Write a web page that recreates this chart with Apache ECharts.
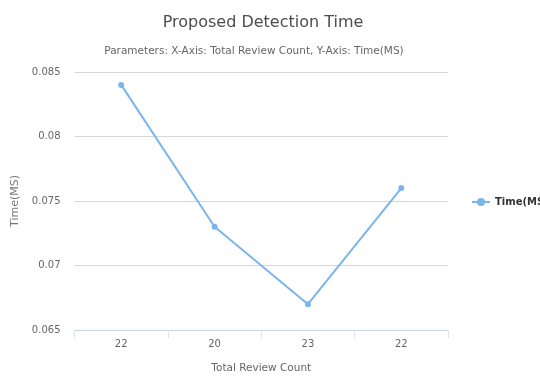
<!DOCTYPE html>
<html>
<head>
<meta charset="utf-8">
<script src="https://cdn.jsdelivr.net/npm/echarts@6/dist/echarts.min.js"></script>
<style>
html,body{margin:0;padding:0;background:#fff;}
#chart{width:540px;height:379px;}
</style>
</head>
<body>
<div id="chart"></div>
<script>
// Review counts on the x axis, detection times on the y axis
var reviewCounts = ['22', '20', '23', '22'];
var detectionTimes = [0.084, 0.073, 0.067, 0.076];
var yTicks = [0.065, 0.07, 0.075, 0.08, 0.085];

var fontFam = '"DejaVu Sans", "Open Sans", sans-serif';
var chart = echarts.init(document.getElementById('chart'), null, {renderer: 'canvas'});
chart.setOption({
  animation: false,
  backgroundColor: '#fff',
  title: [{
    text: 'Proposed Detection Time',
    left: 258, top: 10, textAlign: 'center',
    textStyle: {fontFamily: fontFam, fontSize: 16, fontWeight: 'normal', color: '#4d4d4d'}
  }, {
    text: 'Parameters: X-Axis: Total Review Count, Y-Axis: Time(MS)',
    left: 249, top: 41, textAlign: 'center',
    textStyle: {fontFamily: fontFam, fontSize: 10.5, fontWeight: 'normal', color: '#666'}
  }],
  legend: {
    orient: 'vertical',
    left: 466, top: 192,
    itemWidth: 18, itemHeight: 10,
    itemGap: 4,
    textStyle: {fontFamily: fontFam, fontSize: 10, fontWeight: 'bold', color: '#333'},
    data: ['Time(MS)']
  },
  grid: {left: 74.5, right: 92, top: 72, bottom: 45, containLabel: false},
  xAxis: {
    type: 'category',
    data: reviewCounts,
    boundaryGap: true,
    name: 'Total Review Count',
    nameLocation: 'middle',
    nameGap: 33,
    nameTextStyle: {fontFamily: fontFam, fontSize: 10.5, color: '#666'},
    axisLine: {lineStyle: {color: '#c8d4e0', width: 1}},
    axisTick: {show: true, length: 8, lineStyle: {color: '#dde4ec'}},
    axisLabel: {fontFamily: fontFam, fontSize: 10, color: '#666', margin: 9}
  },
  yAxis: {
    type: 'value',
    min: yTicks[0], max: yTicks[yTicks.length - 1], interval: 0.005,
    name: 'Time(MS)',
    nameLocation: 'middle',
    nameRotate: 90,
    nameGap: 54,
    nameTextStyle: {fontFamily: fontFam, fontSize: 11, color: '#777'},
    axisLine: {show: false},
    axisTick: {show: false},
    axisLabel: {fontFamily: fontFam, fontSize: 10, color: '#666', margin: 14,
      formatter: function (v) { return String(+v.toFixed(3)); }},
    splitLine: {lineStyle: {color: '#d8d8d8', width: 1}}
  },
  series: [{
    name: 'Time(MS)',
    type: 'line',
    data: detectionTimes,
    symbol: 'circle',
    symbolSize: 6,
    itemStyle: {color: '#7cb5ec'},
    lineStyle: {color: '#7cb5ec', width: 2}
  }]
});
</script>
</body>
</html>
